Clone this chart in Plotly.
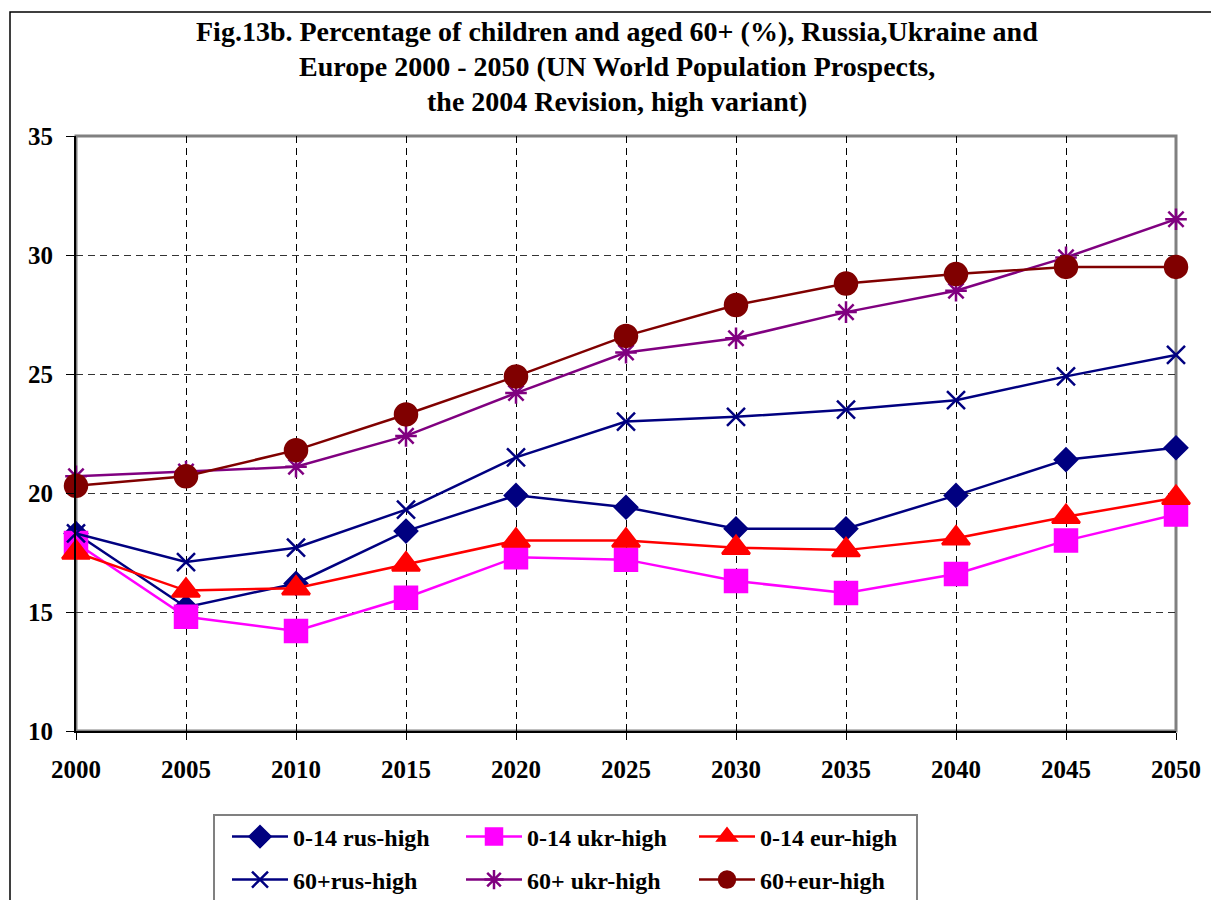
import plotly.graph_objects as go

years = [2000, 2005, 2010, 2015, 2020, 2025, 2030, 2035, 2040, 2045, 2050]

rus_0_14 = [18.3, 15.2, 16.2, 18.4, 19.9, 19.4, 18.5, 18.5, 19.9, 21.4, 21.9]
ukr_0_14 = [17.9, 14.8, 14.2, 15.6, 17.3, 17.2, 16.3, 15.8, 16.6, 18.0, 19.1]
eur_0_14 = [17.5, 15.9, 16.0, 17.0, 18.0, 18.0, 17.7, 17.6, 18.1, 19.0, 19.8]
rus_60 = [18.3, 17.1, 17.7, 19.3, 21.5, 23.0, 23.2, 23.5, 23.9, 24.9, 25.8]
ukr_60 = [20.7, 20.9, 21.1, 22.4, 24.2, 25.9, 26.5, 27.6, 28.5, 29.9, 31.5]
eur_60 = [20.3, 20.7, 21.8, 23.3, 24.9, 26.6, 27.9, 28.8, 29.2, 29.5, 29.5]

y_ticks = [10, 15, 20, 25, 30, 35]

title_lines = [
    "Fig.13b. Percentage of children and aged 60+ (%), Russia,Ukraine and",
    "Europe 2000 - 2050 (UN World Population Prospects,",
    "the 2004 Revision, high variant)",
]

FONT = "Liberation Serif"

# plot area in pixels
W, H = 1211, 900
L, R, T, B = 76, 1176, 136, 731


def px_x(p):
    return (p - L) / (R - L)


def px_y(p):
    return (B - p) / (B - T)


series = [
    ("0-14 rus-high", rus_0_14, "#000080", "diamond", 17),
    ("0-14 ukr-high", ukr_0_14, "#FF00FF", "square", 22),
    ("0-14 eur-high", eur_0_14, "#FF0000", "triangle-up", 24),
    ("60+rus-high", rus_60, "#000080", "x-thin-open", 18),
    ("60+ ukr-high", ukr_60, "#800080", "asterisk-open", 18),
    ("60+eur-high", eur_60, "#800000", "circle", 22),
]

# legend grid: 3 columns x 2 rows, one legend per entry
legend_cols = [227, 461, 694]
legend_rows = [837, 880]
legend_font = dict(family=FONT, size=24, color="black", weight="bold")
tick_font = dict(family=FONT, size=25, color="black", weight="bold")

fig = go.Figure()
legend_layout = {}
for i, (name, vals, color, symbol, size) in enumerate(series):
    key = "legend" if i == 0 else f"legend{i + 1}"
    fig.add_trace(go.Scatter(
        x=years, y=vals, name=name, mode="lines+markers",
        line=dict(color=color, width=2.5),
        marker=dict(symbol=symbol, size=size, color=color,
                    line=dict(color=color, width=2.5)),
        cliponaxis=False, legend=key,
    ))
    legend_layout[key] = dict(
        x=px_x(legend_cols[i % 3]), y=px_y(legend_rows[i // 3]),
        xanchor="left", yanchor="middle",
        bgcolor="rgba(0,0,0,0)", borderwidth=0, itemwidth=56,
        font=legend_font,
    )

fig.update_layout(
    width=W, height=H,
    margin=dict(l=L, r=W - R, t=T, b=H - B, pad=0, autoexpand=False),
    paper_bgcolor="white", plot_bgcolor="white",
    font=dict(family=FONT, size=22, color="black", weight="bold"),
    showlegend=True,
    xaxis=dict(
        range=[2000, 2050], tickmode="array", tickvals=years,
        ticktext=[str(y) for y in years], tickfont=tick_font,
        showgrid=True, gridcolor="black", gridwidth=1, griddash="7px,5px",
        showline=True, linecolor="black", linewidth=2,
        ticks="outside", ticklen=7, tickcolor="black", tickwidth=1,
        ticklabelstandoff=8,
        zeroline=False, fixedrange=True,
    ),
    yaxis=dict(
        range=[10, 35], tickmode="array", tickvals=y_ticks, tickfont=tick_font,
        showgrid=True, gridcolor="#333333", gridwidth=1, griddash="7px,5px",
        showline=True, linecolor="black", linewidth=2,
        ticks="outside", ticklen=8, tickcolor="black", tickwidth=1,
        ticklabelstandoff=8,
        zeroline=False, fixedrange=True,
    ),
    **legend_layout,
)

# outer chart frame
fig.add_shape(type="rect", xref="paper", yref="paper",
              x0=px_x(10), x1=px_x(1220), y0=px_y(12), y1=px_y(920),
              line=dict(color="black", width=1.5), fillcolor="rgba(0,0,0,0)", layer="below")
# plot area border (top/right grey)
fig.add_shape(type="rect", xref="paper", yref="paper",
              x0=0, x1=1, y0=0, y1=1,
              line=dict(color="#808080", width=3), fillcolor="rgba(0,0,0,0)", layer="below")
# legend box
fig.add_shape(type="rect", xref="paper", yref="paper",
              x0=px_x(214), x1=px_x(917), y0=px_y(815), y1=px_y(930),
              line=dict(color="#808080", width=2), fillcolor="white", layer="below")

title_centers = [32, 67, 102]
for txt, yc in zip(title_lines, title_centers):
    fig.add_annotation(
        text=txt, xref="paper", yref="paper", x=px_x(617), y=px_y(yc),
        xanchor="center", yanchor="middle", showarrow=False,
        font=dict(family=FONT, size=28, color="black", weight="bold"),
    )

fig.write_html("out.html")
